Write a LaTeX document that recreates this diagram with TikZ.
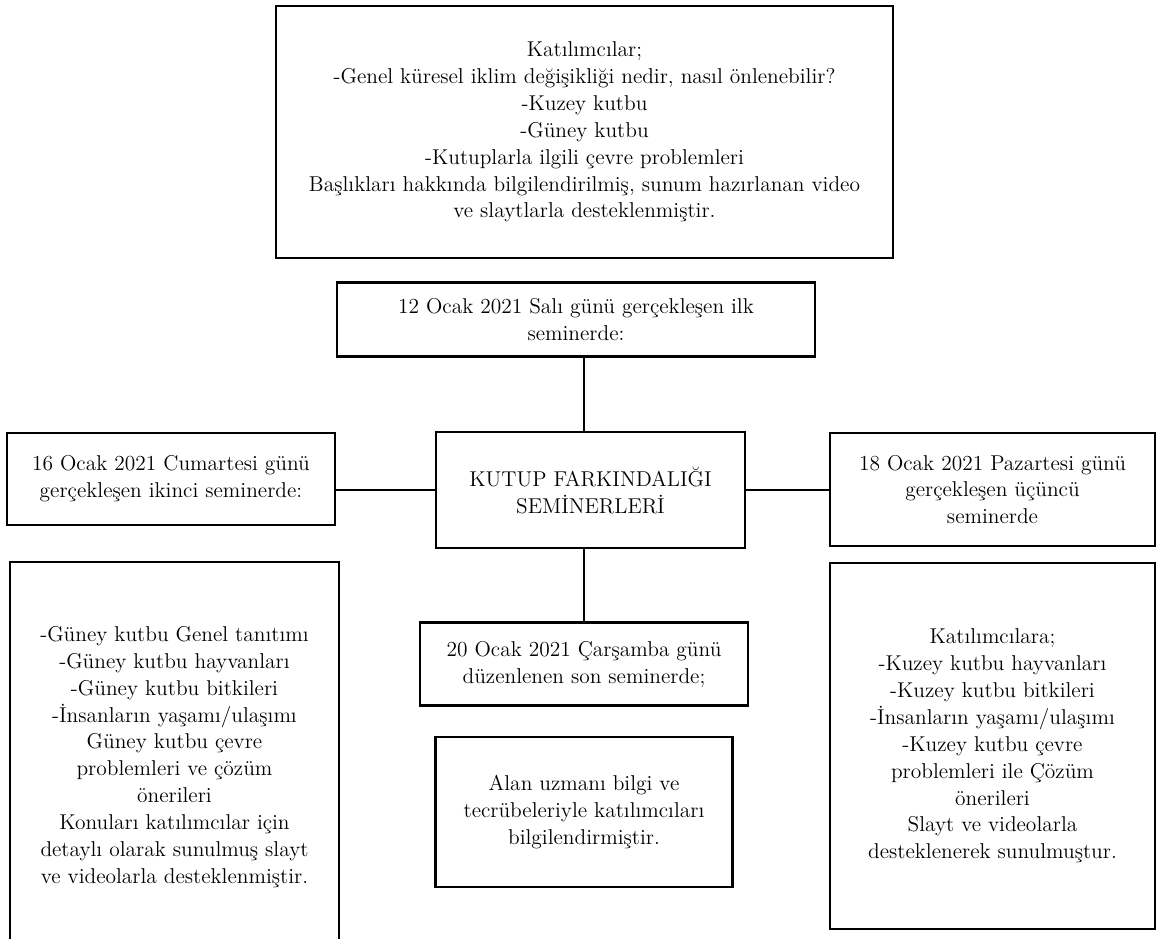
\documentclass[tikz,border=0pt]{standalone}
\usepackage{fontspec}
\usepackage{tikz}
\usetikzlibrary{positioning}

\begin{document}
\begin{tikzpicture}[x=0.02cm, y=-0.02cm, node distance=1.45cm,
	kutu/.style={draw, line width=1.6pt, align=center, inner sep=2pt, font=\fontsize{12.2}{15.3}\selectfont},
	bag/.style={line width=1.6pt}]
	\path[fill=white] (0,0) rectangle (1157,939);
	\useasboundingbox (0,0) rectangle (1157,939);
	\node[kutu, minimum width=6.18cm, minimum height=2.32cm] (hub) at (590.5,490) {KUTUP FARKINDALIĞI\\SEMİNERLERİ};
	\node[kutu, minimum width=9.56cm, minimum height=1.48cm, above =of hub, xshift=-0.29cm] (s1) {12 Ocak 2021 Salı günü gerçekleşen ilk\\seminerde:};
	\node[kutu, minimum width=12.34cm, minimum height=5.04cm] (k1) at (584.5,132) {Katılımcılar;\\-Genel küresel iklim değişikliği nedir, nasıl önlenebilir?\\-Kuzey kutbu\\-Güney kutbu\\-Kutuplarla ilgili çevre problemleri\\Başlıkları hakkında bilgilendirilmiş, sunum hazırlanan video\\ve slaytlarla desteklenmiştir.};
	\node[kutu, minimum width=6.56cm, minimum height=1.84cm] (s2) at (171,479) {16 Ocak 2021 Cumartesi günü\\gerçekleşen ikinci seminerde:};
	\node[kutu, minimum width=6.58cm, minimum height=7.8cm] (k2) at (174.5,757) {-Güney kutbu Genel tanıtımı\\-Güney kutbu hayvanları\\-Güney kutbu bitkileri\\-İnsanların yaşamı/ulaşımı\\Güney kutbu çevre\\problemleri ve çözüm\\önerileri\\Konuları katılımcılar için\\detaylı olarak sunulmuş slayt\\ve videolarla desteklenmiştir.};
	\node[kutu, minimum width=6.5cm, minimum height=2.26cm] (s3) at (992.5,489.5) {18 Ocak 2021 Pazartesi günü\\gerçekleşen üçüncü\\seminerde};
	\node[kutu, minimum width=6.5cm, minimum height=7.32cm] (k3) at (992.5,746) {Katılımcılara;\\-Kuzey kutbu hayvanları\\-Kuzey kutbu bitkileri\\-İnsanların yaşamı/ulaşımı\\-Kuzey kutbu çevre\\problemleri ile Çözüm\\önerileri\\Slayt ve videolarla\\desteklenerek sunulmuştur.};
	\node[kutu, minimum width=6.56cm, minimum height=1.66cm, below =1.44cm of hub, xshift=-0.13cm] (s4) {20 Ocak 2021 Çarşamba günü\\düzenlenen son seminerde;};
	\node[kutu, minimum width=5.94cm, minimum height=3cm, below =0.57cm of s4] (k4) {Alan uzmanı bilgi ve\\tecrübeleriyle katılımcıları\\bilgilendirmiştir.};
	\draw[bag]
	(s1.south -| s4.north) -- (hub.north -| s4.north)
	(hub.west) -- (hub.west -| s2.east)
	(hub.east) -- (hub.east -| s3.west)
	(hub.south -| s4.north) -- (s4.north);
\end{tikzpicture}
\end{document}
